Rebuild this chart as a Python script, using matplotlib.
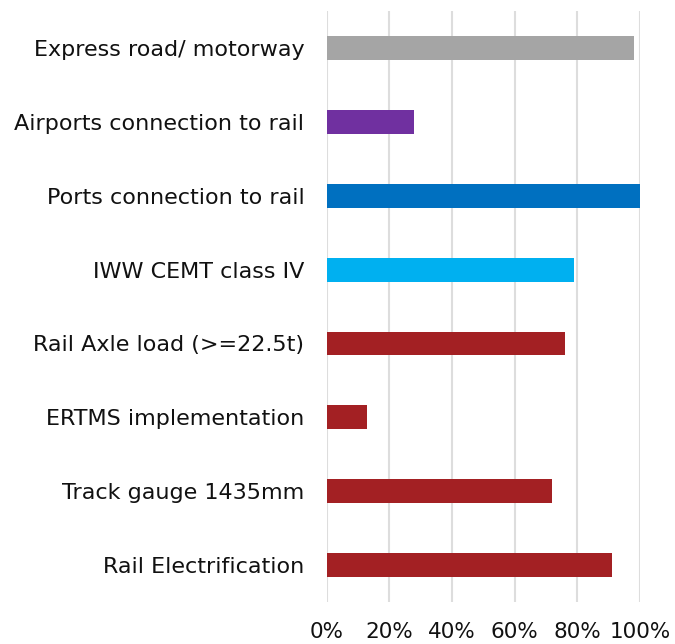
import matplotlib
matplotlib.use("Agg")
import matplotlib.pyplot as plt
from matplotlib.ticker import PercentFormatter

# data (top to bottom as shown)
categories = ['Express road/ motorway', 'Airports connection to rail',
              'Ports connection to rail', 'IWW CEMT class IV',
              'Rail Axle load (>=22.5t)', 'ERTMS implementation',
              'Track gauge 1435mm', 'Rail Electrification']
values = [98, 28, 100, 79, 76, 13, 72, 91]
colors = ['#A5A5A5', '#7030A0', '#0070C0', '#00B0F0',
          '#A32023', '#A32023', '#A32023', '#A32023']

plt.rcParams['font.family'] = ['DejaVu Sans']

fig = plt.figure(figsize=(6.75, 6.44), dpi=100)
ax = fig.add_axes([0.484, 0.065, 0.464, 0.918])

ypos = list(range(len(categories)))
ax.barh(ypos, values, height=0.324, color=colors, zorder=3)

ax.set_yticks(ypos)
ax.set_yticklabels(categories, fontsize=16, color='#111111')
ax.set_ylim(len(categories) - 0.5, -0.5)

ax.set_xlim(0, 100)
ax.set_xticks([0, 20, 40, 60, 80, 100])
ax.xaxis.set_major_formatter(PercentFormatter(decimals=0))
ax.tick_params(axis='x', labelsize=15.5, colors='#111111', length=0, pad=14)
ax.tick_params(axis='y', length=0, pad=16)

ax.grid(axis='x', color='#DDDDDD', linewidth=1.5, zorder=0)
for s in ax.spines.values():
    s.set_visible(False)

fig.savefig('out.png', dpi=100)
